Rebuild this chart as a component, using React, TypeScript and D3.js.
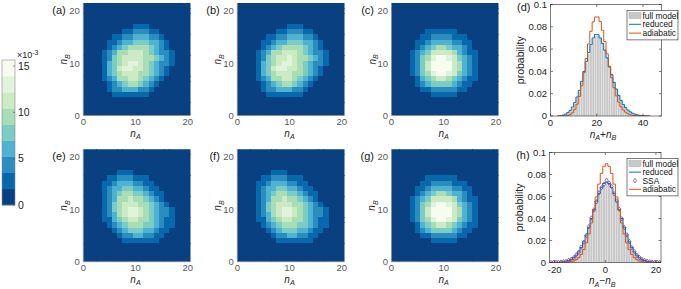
import React from 'react';
import * as d3 from 'd3';

const FONT = "'Liberation Sans', Arial, Helvetica, sans-serif";

// ---------- colour bar ----------
const cbColors = ['#084081', '#0868ac', '#2b8cbe', '#4eb3d3', '#7bccc4', '#a8ddb5', '#ccebc5', '#e0f3db', '#f7fcf0'];
const cbMax = 15.65; // x10^-3
const cbTicks = [0, 5, 10, 15];

// ---------- heat maps: colour level per cell, rows n_B = 21 (top) .. 0, columns n_A = 0 .. 21 ----------
const heatTicks = [0, 10, 20];

const gridA = [
  '0000000000000000000000',
  '0000000000000000000000',
  '0000000000000000000000',
  '0000000000000000000000',
  '0000000000111000000000',
  '0000000011222110000000',
  '0000001122333221000000',
  '0000011233444332100000',
  '0000012345555432100000',
  '0000123556665432210000',
  '0000124566665543210000',
  '0000134567765432210000',
  '0000134677665432100000',
  '0000134566655432100000',
  '0000123556654321000000',
  '0000012345543210000000',
  '0000012233322100000000',
  '0000001111111000000000',
  '0000000000000000000000',
  '0000000000000000000000',
  '0000000000000000000000',
  '0000000000000000000000',
];

const gridB = [
  '0000000000000000000000',
  '0000000000000000000000',
  '0000000000000000000000',
  '0000000000000000000000',
  '0000000000111000000000',
  '0000000011222110000000',
  '0000001122333221000000',
  '0000011233444332100000',
  '0000012345555432100000',
  '0000123556665432210000',
  '0000124566765543210000',
  '0000134567765432210000',
  '0000134677665432100000',
  '0000134566655432100000',
  '0000123556654321000000',
  '0000012345543210000000',
  '0000012233322100000000',
  '0000001111111000000000',
  '0000000000000000000000',
  '0000000000000000000000',
  '0000000000000000000000',
  '0000000000000000000000',
];

const gridC = [
  '0000000000000000000000',
  '0000000000000000000000',
  '0000000000000000000000',
  '0000000000000000000000',
  '0000000000000000000000',
  '0000000111111000000000',
  '0000001122221110000000',
  '0000011233332211000000',
  '0000012345543321000000',
  '0000123466665321100000',
  '0000124578876432100000',
  '0000124688886532100000',
  '0000124688886532100000',
  '0000124578876432100000',
  '0000013456654321100000',
  '0000012344443211000000',
  '0000001122222110000000',
  '0000000011111000000000',
  '0000000000000000000000',
  '0000000000000000000000',
  '0000000000000000000000',
  '0000000000000000000000',
];

const gridE = [
  '0000000000000000000000',
  '0000000000000000000000',
  '0000000000000000000000',
  '0000000000000000000000',
  '0000000111000000000000',
  '0000011222111000000000',
  '0000112333221100000000',
  '0000123344332110000000',
  '0000123455443211000000',
  '0000123556554321000000',
  '0000124566655432100000',
  '0000124567765432210000',
  '0000123567765432210000',
  '0000113456655432110000',
  '0000012345554432110000',
  '0000001234443321100000',
  '0000000122332211000000',
  '0000000011111110000000',
  '0000000000000000000000',
  '0000000000000000000000',
  '0000000000000000000000',
  '0000000000000000000000',
];

const gridF = [
  '0000000000000000000000',
  '0000000000000000000000',
  '0000000000000000000000',
  '0000000000000000000000',
  '0000000111000000000000',
  '0000011222111000000000',
  '0000112333221100000000',
  '0000123344332110000000',
  '0000123455443211000000',
  '0000123556554321000000',
  '0000124566655432100000',
  '0000124567765432210000',
  '0000123567765432210000',
  '0000113456655432110000',
  '0000012345554432110000',
  '0000001234443321100000',
  '0000000122332211000000',
  '0000000011111110000000',
  '0000000000000000000000',
  '0000000000000000000000',
  '0000000000000000000000',
  '0000000000000000000000',
];

const gridG = gridC;

// ---------- histogram (d): n_A + n_B ----------
const sumBins = [3, 4, 5, 6, 7, 8, 9, 10, 11, 12, 13, 14, 15, 16, 17, 18, 19, 20, 21, 22, 23, 24, 25, 26, 27, 28, 29, 30, 31, 32, 33, 34, 35, 36, 37, 38, 39, 40, 41, 42];
const sumFull = [0, 0.0002, 0.0006, 0.0013, 0.0026, 0.0045, 0.0073, 0.011, 0.016, 0.022, 0.03, 0.039, 0.048, 0.056, 0.063, 0.069, 0.072, 0.072, 0.07, 0.066, 0.06, 0.053, 0.045, 0.038, 0.031, 0.025, 0.019, 0.0145, 0.0105, 0.0078, 0.0055, 0.0038, 0.0026, 0.0017, 0.0011, 0.0007, 0.0004, 0.0002, 0.0001, 0];
const sumReduced = [0.0001, 0.0003, 0.0008, 0.0016, 0.003, 0.005, 0.008, 0.012, 0.017, 0.023, 0.031, 0.04, 0.049, 0.057, 0.064, 0.07, 0.073, 0.073, 0.07, 0.065, 0.059, 0.052, 0.044, 0.037, 0.03, 0.024, 0.0185, 0.014, 0.0102, 0.0075, 0.0053, 0.0037, 0.0025, 0.0017, 0.0011, 0.0007, 0.0004, 0.0002, 0.0001, 0];
const sumAdiabatic = [0, 0, 0.0001, 0.0002, 0.0005, 0.0013, 0.0029, 0.0058, 0.0106, 0.0176, 0.0271, 0.0387, 0.0516, 0.0646, 0.076, 0.0844, 0.0888, 0.0888, 0.0846, 0.0769, 0.0669, 0.0557, 0.0446, 0.0343, 0.0254, 0.0181, 0.0125, 0.0083, 0.0054, 0.0034, 0.002, 0.0012, 0.0007, 0.0004, 0.0002, 0.0001, 0, 0, 0, 0];
const sumTicks = [0, 20, 40];

// ---------- histogram (h): n_A - n_B ----------
const diffBins = [-22, -21, -20, -19, -18, -17, -16, -15, -14, -13, -12, -11, -10, -9, -8, -7, -6, -5, -4, -3, -2, -1, 0, 1, 2, 3, 4, 5, 6, 7, 8, 9, 10, 11, 12, 13, 14, 15, 16, 17, 18, 19, 20, 21];
const diffFull = [0, 0, 0.0001, 0.0002, 0.0004, 0.0007, 0.0011, 0.0018, 0.0029, 0.0045, 0.0067, 0.0098, 0.0138, 0.0189, 0.025, 0.032, 0.0398, 0.0476, 0.0552, 0.062, 0.0672, 0.0705, 0.0715, 0.0705, 0.0672, 0.062, 0.0552, 0.0476, 0.0398, 0.032, 0.025, 0.0189, 0.0138, 0.0098, 0.0067, 0.0045, 0.0029, 0.0018, 0.0011, 0.0007, 0.0004, 0.0002, 0.0001, 0];
const diffReduced = [0, 0.0001, 0.0001, 0.0002, 0.0004, 0.0006, 0.0011, 0.0018, 0.0028, 0.0044, 0.0066, 0.0097, 0.0137, 0.0188, 0.025, 0.0321, 0.04, 0.048, 0.0558, 0.0628, 0.0683, 0.0718, 0.073, 0.0718, 0.0683, 0.0628, 0.0558, 0.048, 0.04, 0.0321, 0.025, 0.0188, 0.0137, 0.0097, 0.0066, 0.0044, 0.0028, 0.0018, 0.0011, 0.0006, 0.0004, 0.0002, 0.0001, 0.0001];
const diffSSA = [0, 0.0001, 0.0001, 0.0002, 0.0004, 0.0007, 0.001, 0.0019, 0.0029, 0.0042, 0.0068, 0.0094, 0.014, 0.0185, 0.0246, 0.0325, 0.0405, 0.0478, 0.0552, 0.0632, 0.068, 0.0712, 0.0748, 0.0722, 0.069, 0.0625, 0.056, 0.0485, 0.0398, 0.0318, 0.0252, 0.019, 0.0135, 0.0098, 0.0065, 0.0045, 0.0028, 0.0017, 0.0011, 0.0006, 0.0003, 0.0002, 0.0001, 0];
const diffAdiabatic = [0, 0, 0, 0, 0, 0.0001, 0.0002, 0.0003, 0.0007, 0.0013, 0.0025, 0.0044, 0.0073, 0.0117, 0.0178, 0.0259, 0.0359, 0.0475, 0.0596, 0.0713, 0.081, 0.0875, 0.0898, 0.0875, 0.081, 0.0713, 0.0596, 0.0475, 0.0359, 0.0259, 0.0178, 0.0117, 0.0073, 0.0044, 0.0025, 0.0013, 0.0007, 0.0003, 0.0002, 0.0001, 0, 0, 0, 0];
const diffTicks = [-20, 0, 20];

const probTicks = [0, 0.02, 0.04, 0.06, 0.08, 0.1];
const probTickLabels = ['0', '0.02', '0.04', '0.06', '0.08', '0.1'];

const BLUE = '#0072BD';
const ORANGE = '#D95319';
const PURPLE = '#7E2F8E';
const GRAYBAR = '#c8c8c8';

function NLabel({ x, y, parts, rotate = false, size = 10.5 }: any) {
  const t = rotate ? `rotate(-90 ${x} ${y})` : undefined;
  return (
    <text x={x} y={y} transform={t} textAnchor="middle" fontFamily={FONT} fontSize={size} fill="#262626">
      {parts.map((p: any, i: number) =>
        typeof p === 'string' ? (
          <tspan key={i} dy={i > 0 && typeof parts[i - 1] !== 'string' ? -2.5 : 0}>{p}</tspan>
        ) : (
          <React.Fragment key={i}>
            <tspan fontStyle="italic" dy={i > 0 && typeof parts[i - 1] !== 'string' ? -2.5 : 0}>{p[0]}</tspan>
            <tspan fontStyle="italic" fontSize={size * 0.72} dy={2.5}>{p[1]}</tspan>
          </React.Fragment>
        )
      )}
    </text>
  );
}

function HeatPanel({ grid, tag, x0, y0, id }: any) {
  const w = 107;
  const h = 112.5;
  const xs = d3.scaleLinear().domain([0, 20.5]).range([x0, x0 + w]);
  const ys = d3.scaleLinear().domain([0, 21.5]).range([y0 + h, y0]);
  const color = d3.scaleQuantize<string>().domain([0, cbMax]).range(cbColors);
  const nTop = grid.length - 1;
  const cells: any[] = [];
  grid.forEach((row: string, i: number) => {
    const nB = nTop - i;
    row.split('').forEach((ch, nA) => {
      const lvl = +ch;
      const v = ((lvl + 0.5) * cbMax) / cbColors.length;
      const xa = xs(nA - 0.5);
      const xb = xs(nA + 0.5);
      const ya = ys(nB + 0.5);
      const yb = ys(nB - 0.5);
      cells.push(<rect key={`${i}-${nA}`} x={xa} y={ya} width={xb - xa + 0.3} height={yb - ya + 0.3} fill={color(v)} />);
    });
  });
  const axisCol = '#8a8a8a';
  const labCol = '#5a5a5a';
  return (
    <g>
      <defs>
        <clipPath id={id}>
          <rect x={x0} y={y0} width={w} height={h} />
        </clipPath>
      </defs>
      <g clipPath={`url(#${id})`} shapeRendering="crispEdges">{cells}</g>
      <line x1={x0} x2={x0} y1={y0} y2={y0 + h} stroke={axisCol} strokeWidth={0.8} />
      <line x1={x0} x2={x0 + w} y1={y0 + h} y2={y0 + h} stroke={axisCol} strokeWidth={0.8} />
      {heatTicks.map((t) => (
        <text key={`x${t}`} x={xs(t)} y={y0 + h + 9.3} textAnchor="middle" fontFamily={FONT} fontSize={9.5} fill={labCol}>{t}</text>
      ))}
      {heatTicks.map((t) => (
        <text key={`y${t}`} x={x0 - 3.5} y={ys(t) + 3.4} textAnchor="end" fontFamily={FONT} fontSize={9.5} fill={labCol}>{t}</text>
      ))}
      <NLabel x={xs(10)} y={y0 + h + 21} parts={[['n', 'A']]} size={10} />
      <NLabel x={x0 - 16} y={ys(10.75)} parts={[['n', 'B']]} rotate size={10} />
      <text x={x0 - 17.5} y={y0 + 11} textAnchor="end" fontFamily={FONT} fontSize={11} fill="#1a1a1a">{tag}</text>
    </g>
  );
}

function HistPanel({ tag, x0, x1, yb, yt, xDomain, xTicks, bins, full, reduced, adiabatic, ssa, xlabel }: any) {
  const xs = d3.scaleLinear().domain(xDomain).range([x0, x1]);
  const ys = d3.scaleLinear().domain([0, 0.1]).range([yb, yt]);
  const stairs = (vals: number[]) => {
    const pts: [number, number][] = [];
    bins.forEach((k: number, i: number) => {
      pts.push([k, vals[i]]);
      pts.push([k + 1, vals[i]]);
    });
    return d3.line<[number, number]>().x((d) => xs(d[0])).y((d) => ys(d[1]))(pts) || '';
  };
  const ax = '#262626';
  const id = `clip-${tag.replace(/[()]/g, '')}`;
  const diamond = (cx: number, cy: number, r: number) => `M${cx},${cy - r}L${cx + r * 0.75},${cy}L${cx},${cy + r}L${cx - r * 0.75},${cy}Z`;
  const legendItems = ssa ? ['full model', 'reduced', 'SSA', 'adiabatic'] : ['full model', 'reduced', 'adiabatic'];
  const lgTop = yt + 6;
  const lgStep = ssa ? 8.6 : 8.8;
  const lgH = legendItems.length * lgStep + 3;
  const lgX = 627;
  return (
    <g>
      <defs>
        <clipPath id={id}>
          <rect x={x0} y={yt} width={x1 - x0} height={yb - yt} />
        </clipPath>
      </defs>
      <g clipPath={`url(#${id})`}>
        {bins.map((k: number, i: number) => (
          <rect key={k} x={xs(k)} y={ys(full[i])} width={xs(k + 1) - xs(k)} height={ys(0) - ys(full[i])} fill={GRAYBAR} stroke="#ececec" strokeWidth={0.4} />
        ))}
        <path d={stairs(reduced)} fill="none" stroke={BLUE} strokeWidth={1} />
        {ssa &&
          bins.map((k: number, i: number) => (
            <path key={`s${k}`} d={diamond(xs(k + 0.5), ys(ssa[i]), 2.2)} fill="none" stroke={PURPLE} strokeWidth={0.7} />
          ))}
        <path d={stairs(adiabatic)} fill="none" stroke={ORANGE} strokeWidth={1} />
      </g>
      <rect x={x0} y={yt} width={x1 - x0} height={yb - yt} fill="none" stroke={ax} strokeWidth={0.6} />
      {xTicks.map((t: number) => (
        <g key={`xt${t}`}>
          <line x1={xs(t)} x2={xs(t)} y1={yb} y2={yb - 2.5} stroke={ax} strokeWidth={0.6} />
          <line x1={xs(t)} x2={xs(t)} y1={yt} y2={yt + 2.5} stroke={ax} strokeWidth={0.6} />
          <text x={xs(t)} y={yb + 10} textAnchor="middle" fontFamily={FONT} fontSize={9.5} fill={ax}>{t}</text>
        </g>
      ))}
      {probTicks.map((t, i) => (
        <g key={`yt${t}`}>
          <line x1={x0} x2={x0 + 2.5} y1={ys(t)} y2={ys(t)} stroke={ax} strokeWidth={0.6} />
          <line x1={x1} x2={x1 - 2.5} y1={ys(t)} y2={ys(t)} stroke={ax} strokeWidth={0.6} />
          <text x={x0 - 3.5} y={ys(t) + 3.3} textAnchor="end" fontFamily={FONT} fontSize={9.5} fill={ax}>{probTickLabels[i]}</text>
        </g>
      ))}
      <text x={x0 - 27} y={(yt + yb) / 2} transform={`rotate(-90 ${x0 - 27} ${(yt + yb) / 2})`} textAnchor="middle" fontFamily={FONT} fontSize={10.5} fill={ax}>probability</text>
      <NLabel x={(x0 + x1) / 2 - 3} y={yb + 21.5} parts={xlabel} size={10} />
      <text x={x0 - 20} y={yt + 6} textAnchor="end" fontFamily={FONT} fontSize={11} fill="#1a1a1a">{tag}</text>
      <rect x={lgX} y={lgTop} width={51} height={lgH} fill="white" stroke={ax} strokeWidth={0.6} />
      {legendItems.map((name, i) => {
        const cy = lgTop + 5 + i * lgStep;
        let sym;
        if (name === 'full model') sym = <rect x={lgX + 2} y={cy - 3} width={12} height={6} fill={GRAYBAR} stroke="#9a9a9a" strokeWidth={0.4} />;
        else if (name === 'reduced') sym = <line x1={lgX + 2} x2={lgX + 14} y1={cy} y2={cy} stroke={BLUE} strokeWidth={1} />;
        else if (name === 'SSA') sym = <path d={diamond(lgX + 8, cy, 2.2)} fill="none" stroke={PURPLE} strokeWidth={0.7} />;
        else sym = <line x1={lgX + 2} x2={lgX + 14} y1={cy} y2={cy} stroke={ORANGE} strokeWidth={1} />;
        return (
          <g key={name}>
            {sym}
            <text x={lgX + 15.5} y={cy + 3} fontFamily={FONT} fontSize={8.4} fill="#111">{name}</text>
          </g>
        );
      })}
    </g>
  );
}

function ColorBar() {
  const x0 = 2;
  const w = 13;
  const yb = 205;
  const yt = 60;
  const ys = d3.scaleLinear().domain([0, cbMax]).range([yb, yt]);
  const step = cbMax / cbColors.length;
  return (
    <g>
      {cbColors.map((c, i) => (
        <rect key={c} x={x0} y={ys((i + 1) * step)} width={w} height={ys(i * step) - ys((i + 1) * step) + 0.3} fill={c} />
      ))}
      <rect x={x0} y={yt} width={w} height={yb - yt} fill="none" stroke="#8a8a8a" strokeWidth={0.6} />
      {cbTicks.map((t) => (
        <g key={t}>
          <line x1={x0 + w} x2={x0 + w - 2} y1={ys(t)} y2={ys(t)} stroke="#555" strokeWidth={0.6} />
          <text x={x0 + w + 3} y={ys(t) + 3.7} fontFamily={FONT} fontSize={10.5} fill="#262626">{t}</text>
        </g>
      ))}
      <text x={x0 + w + 2} y={58} fontFamily={FONT} fontSize={9} fill="#262626">
        ×10<tspan fontSize={7} dy={-3.5}>-3</tspan>
      </text>
    </g>
  );
}

export default function App() {
  return (
    <svg width={681} height={289} viewBox="0 0 681 289" style={{ position: 'absolute', left: 0, top: 0, background: 'white' }}>
      <rect width={681} height={289} fill="white" />
      <ColorBar />
      <HeatPanel grid={gridA} tag="(a)" x0={83.3} y0={3} id="ha" />
      <HeatPanel grid={gridB} tag="(b)" x0={237.3} y0={3} id="hb" />
      <HeatPanel grid={gridC} tag="(c)" x0={391.5} y0={3} id="hc" />
      <HeatPanel grid={gridE} tag="(e)" x0={83.3} y0={149.2} id="he" />
      <HeatPanel grid={gridF} tag="(f)" x0={237.3} y0={149.2} id="hf" />
      <HeatPanel grid={gridG} tag="(g)" x0={391.5} y0={149.2} id="hg" />
      <HistPanel tag="(d)" x0={550.5} x1={661.5} yb={116} yt={4.5} xDomain={[0, 48]} xTicks={sumTicks} bins={sumBins}
        full={sumFull} reduced={sumReduced} adiabatic={sumAdiabatic} xlabel={[['n', 'A'], '+', ['n', 'B']]} />
      <HistPanel tag="(h)" x0={549.6} x1={661} yb={262.5} yt={152.5} xDomain={[-22, 22]} xTicks={diffTicks} bins={diffBins}
        full={diffFull} reduced={diffReduced} adiabatic={diffAdiabatic} ssa={diffSSA} xlabel={[['n', 'A'], '−', ['n', 'B']]} />
    </svg>
  );
}
